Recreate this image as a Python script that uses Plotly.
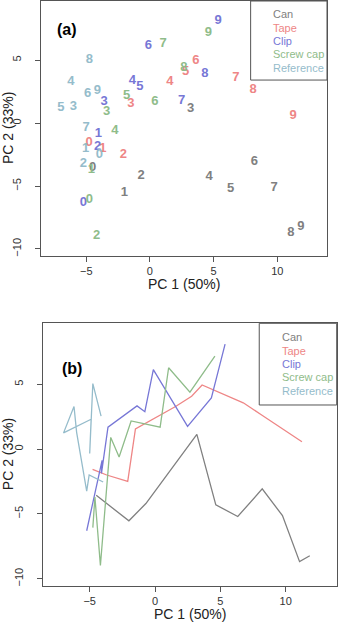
import plotly.graph_objects as go

groups = ["Can", "Tape", "Clip", "Screw cap", "Reference"]
colors = ["#808080", "#EE8686", "#7777D6", "#8FBC8A", "#95BCCB"]
labels = ["0", "1", "2", "3", "4", "5", "6", "7", "8", "9"]

can_x = [-4.5, -2.0, -0.7, 3.2, 4.65, 6.33, 8.2, 9.75, 11.06, 11.84]
can_y = [-3.57, -5.53, -4.2, 1.13, -4.3, -5.2, -3.07, -5.13, -8.68, -8.23]
tape_x = [-4.78, -3.7, -2.09, -1.5, 1.57, 2.8, 3.6, 6.75, 8.1, 11.24]
tape_y = [-1.56, -2.0, -2.49, 1.56, 3.28, 4.07, 4.94, 3.57, 2.67, 0.56]
clip_x = [-5.23, -4.05, -4.1, -3.6, -1.38, -0.78, -0.13, 2.49, 4.31, 5.36]
clip_y = [-6.3, -0.87, -1.88, 1.69, 3.33, 2.88, 6.13, 1.75, 3.94, 8.1]
screw_x = [-4.76, -4.6, -4.18, -3.39, -2.75, -1.83, 0.39, 1.04, 2.67, 4.58]
screw_y = [-6.06, -3.7, -8.97, 0.9, -0.61, 2.17, 1.69, 6.27, 4.39, 7.17]
ref_x = [-3.97, -5.04, -5.23, -6.0, -6.2, -7.0, -4.89, -5.0, -4.76, -4.13]
ref_y = [-2.54, -2.0, -3.25, 1.29, 3.28, 1.25, 2.3, -0.34, 5.05, 2.54]

xs = [can_x, tape_x, clip_x, screw_x, ref_x]
ys = [can_y, tape_y, clip_y, screw_y, ref_y]

x_ticks = [-5, 0, 5, 10]
y_ticks = [-10, -5, 0, 5]
x_range = [-8.55, 13.9]
y_range = [-10.56, 9.7]
x_title = "PC 1 (50%)"
y_title = "PC 2 (33%)"

FONT = "Liberation Sans, Arial, sans-serif"
W, H = 339, 624

fig = go.Figure()

for name, col, x, y in zip(groups, colors, xs, ys):
    fig.add_trace(go.Scatter(
        x=x, y=y, mode="text", text=labels, name=name,
        textfont=dict(family=FONT, size=13, color=col, weight="bold"),
        xaxis="x", yaxis="y", showlegend=False, hoverinfo="x+y+name"))

for name, col, x, y in zip(groups, colors, xs, ys):
    fig.add_trace(go.Scatter(
        x=x, y=y, mode="lines", name=name,
        line=dict(color=col, width=1.3),
        xaxis="x2", yaxis="y2", showlegend=False))

# panel pixel boxes (left, top, right, bottom)
boxes = {"a": (41, 1, 327, 256), "b": (43.3, 323.3, 336.7, 586)}

def dom(box):
    l, t, r, b = box
    return [l / W, r / W], [1 - b / H, 1 - t / H]

axis_common = dict(
    showgrid=False, zeroline=False, showline=True, mirror=True,
    linecolor="#555555", linewidth=1, ticks="outside", ticklen=5,
    tickcolor="#555555", tickfont=dict(family=FONT, size=11, color="#333333"))

xd_a, yd_a = dom(boxes["a"])
xd_b, yd_b = dom(boxes["b"])

fig.update_layout(
    xaxis=dict(domain=xd_a, range=x_range, tickvals=x_ticks, anchor="y", **axis_common),
    yaxis=dict(domain=yd_a, range=y_range, tickvals=y_ticks, anchor="x", tickangle=-90,
               ticklabelstandoff=10, **axis_common),
    xaxis2=dict(domain=xd_b, range=x_range, tickvals=x_ticks, anchor="y2", **axis_common),
    yaxis2=dict(domain=yd_b, range=y_range, tickvals=y_ticks, anchor="x2", tickangle=-90,
                ticklabelstandoff=10, **axis_common),
    width=W, height=H, margin=dict(l=0, r=0, t=0, b=0),
    plot_bgcolor="white", paper_bgcolor="white", showlegend=False,
)

annotations = []
shapes = []
for key, xr, yr, leg_box, text_x, text_ys, lab_pos in [
    ("a", "x domain", "y domain", (0.733, 0.690), 0.804,
     [0.948, 0.895, 0.843, 0.791, 0.738], (0.090, 0.889)),
    ("b", "x2 domain", "y2 domain", (0.736, 0.689), 0.807,
     [0.947, 0.896, 0.845, 0.795, 0.744], (0.097, 0.829)),
]:
    shapes.append(dict(type="rect", xref=xr, yref=yr, x0=leg_box[0], x1=1.0,
                       y0=leg_box[1], y1=1.0, line=dict(color="#555555", width=1),
                       fillcolor="rgba(0,0,0,0)"))
    for name, col, ty in zip(groups, colors, text_ys):
        annotations.append(dict(xref=xr, yref=yr, x=text_x, y=ty, text=name,
                                showarrow=False, xanchor="left", yanchor="middle",
                                font=dict(family=FONT, size=11, color=col)))
    annotations.append(dict(xref=xr, yref=yr, x=lab_pos[0], y=lab_pos[1],
                            text="<b>(%s)</b>" % key, showarrow=False,
                            xanchor="center", yanchor="middle",
                            font=dict(family=FONT, size=16, color="black")))
    l, t, r, b = boxes[key]
    annotations.append(dict(xref="paper", yref="paper", x=(l + r) / 2 / W,
                            y=1 - (b + 28) / H, text=x_title, showarrow=False,
                            xanchor="center", yanchor="middle",
                            font=dict(family=FONT, size=14, color="#222222")))
    annotations.append(dict(xref="paper", yref="paper", x=7.5 / W,
                            y=1 - (t + b) / 2 / H, text=y_title, showarrow=False,
                            textangle=-90, xanchor="center", yanchor="middle",
                            font=dict(family=FONT, size=14, color="#222222")))

fig.update_layout(annotations=annotations, shapes=shapes)
fig.write_html("out.html")
